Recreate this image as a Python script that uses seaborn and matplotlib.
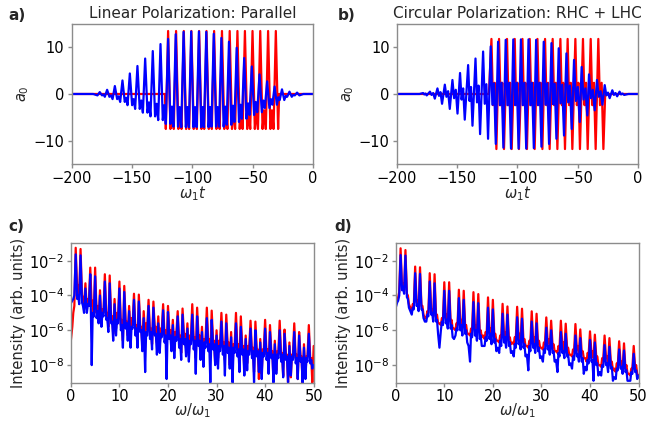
import numpy as np
import matplotlib
matplotlib.use("Agg")
import matplotlib.pyplot as plt
import seaborn as sns
import pandas as pd

# ---------------- time-domain data (panel a: linear, parallel) ----------------
# each cycle: narrow peak, trough on each side of it, small bump between cycles
red_a_peak_t = [-120.0, -113.4, -107.0, -100.7, -94.3, -88.2, -81.9, -75.4, -69.0, -62.6,
                -56.4, -50.1, -43.7, -37.2, -30.8]
red_a_peak_v = [13.5, 13.5, 13.5, 13.5, 13.5, 13.5, 13.5, 13.5, 13.5, 13.5, 13.5, 13.5, 13.5, 13.5, 13.5]
red_a_trough_v = [-7.5, -7.5, -7.5, -7.5, -7.5, -7.5, -7.5, -7.5, -7.5, -7.5, -7.5, -7.5, -7.5, -7.5, -7.5]
red_a_bump_v = [-3.5, -3.5, -3.5, -3.5, -3.5, -3.5, -3.5, -3.5, -3.5, -3.5, -3.5, -3.5, -3.5, -3.5]

blue_a_peak_t = [-176.6, -170.5, -164.1, -157.8, -151.7, -145.4, -139.0, -132.7, -126.3, -120.0,
                 -113.7, -107.2, -100.9, -94.5, -88.4, -82.2, -75.9, -69.6, -63.2, -57.0,
                 -50.7, -44.3, -38.0, -31.8, -25.7, -19.5, -13.2]
blue_a_peak_v = [0.4, 0.9, 1.7, 2.9, 4.4, 6.0, 7.6, 9.2, 10.7, 11.8,
                 12.8, 13.3, 13.4, 13.4, 13.3, 12.9, 12.0, 11.2, 9.9, 7.7,
                 5.9, 4.2, 2.7, 1.6, 1.0, 0.5, 0.3]
blue_a_trough_v = [-0.3, -0.6, -1.1, -1.7, -2.4, -3.2, -4.0, -4.8, -5.6, -6.4,
                   -7.0, -7.1, -7.1, -7.1, -7.1, -7.0, -7.0, -6.6, -6.0, -5.3,
                   -4.5, -3.9, -3.0, -2.3, -1.3, -0.6, -0.3]
blue_a_bump_v = [-0.1, -0.3, -0.5, -0.8, -1.1, -1.4, -1.8, -2.1, -2.4, -2.7, -2.8, -2.8, -2.8,
                 -2.8, -2.8, -2.8, -2.7, -2.5, -2.3, -2.0, -1.7, -1.4, -1.1, -0.7, -0.4, -0.2]

# ---------------- time-domain data (panel b: circular, RHC + LHC) ----------------
red_b_peak_t = [-121.4, -115.1, -108.5, -102.1, -95.7, -89.7, -83.3, -77.0, -70.7, -64.3,
                -58.3, -51.9, -45.6, -39.2, -32.9]
red_b_peak_v = [11.8, 11.8, 11.8, 11.8, 11.8, 11.8, 11.8, 11.8, 11.8, 11.8, 11.8, 11.8, 11.8, 11.8, 11.8]
red_b_trough_t = [-117.3, -111.0, -104.6, -98.6, -92.0, -85.6, -79.2, -73.2, -66.8, -60.5,
                  -54.4, -48.1, -41.7, -35.1, -28.7]
red_b_trough_v = [-11.8, -11.8, -11.8, -11.8, -11.8, -11.8, -11.8, -11.8, -11.8, -11.8,
                  -11.8, -11.8, -11.8, -11.8, -11.8]
red_b_wig_lo = [-2.4, -2.4, -2.4, -2.4, -2.4, -2.4, -2.4, -2.4, -2.4, -2.4, -2.4, -2.4, -2.4, -2.4, -2.4]
red_b_wig_hi = [2.4, 2.4, 2.4, 2.4, 2.4, 2.4, 2.4, 2.4, 2.4, 2.4, 2.4, 2.4, 2.4, 2.4, 2.4]

blue_b_peak_t = [-178.0, -172.3, -166.1, -160.0, -153.7, -147.4, -140.7, -134.6, -128.3, -122.0,
                 -115.9, -109.6, -103.3, -97.0, -90.7, -84.4, -78.1, -71.7, -65.7, -59.3,
                 -53.0, -46.7, -40.6, -34.0, -27.6, -21.3, -15.3]
blue_b_peak_v = [0.2, 0.5, 1.2, 2.0, 3.0, 4.5, 6.2, 7.6, 9.1, 10.2,
                 11.2, 11.6, 11.7, 11.7, 11.7, 11.6, 11.2, 10.9, 9.8, 8.7,
                 7.3, 5.8, 4.2, 3.0, 1.9, 0.8, 0.5]
blue_b_trough_t = [-175.0, -168.3, -162.3, -155.9, -149.5, -143.5, -137.1, -130.8, -124.2, -117.8,
                   -111.5, -105.2, -98.9, -92.6, -86.3, -80.0, -73.7, -67.6, -61.3, -54.9,
                   -48.3, -42.0, -35.9, -29.5, -23.5, -17.3, -11.5]
blue_b_trough_v = [-0.3, -1.0, -2.1, -3.2, -4.2, -5.5, -6.8, -8.6, -9.6, -10.7,
                   -11.5, -11.7, -11.7, -11.7, -11.6, -11.3, -10.7, -9.6, -8.9, -7.5,
                   -6.0, -4.6, -3.5, -2.3, -0.9, -0.5, -0.2]
blue_b_wig_lo = [-0.1, -0.2, -0.4, -0.6, -0.9, -1.2, -1.5, -1.8, -2.1, -2.3, -2.4, -2.4, -2.4, -2.4,
                 -2.4, -2.4, -2.3, -2.2, -2.0, -1.8, -1.5, -1.2, -0.9, -0.6, -0.3, -0.2, -0.1]
blue_b_wig_hi = [0.1, 0.2, 0.4, 0.6, 0.9, 1.2, 1.5, 1.8, 2.1, 2.3, 2.4, 2.4, 2.4, 2.4,
                 2.4, 2.4, 2.3, 2.2, 2.0, 1.8, 1.5, 1.2, 0.9, 0.6, 0.3, 0.2, 0.1]

# ---------------- spectra (log10 intensity), n = 0..50 ----------------
# pk: value at harmonic order n; lo1, mid, lo2: background between n and n+1
red_c_pk = [-6.6, -1.26, -1.33, -3.3, -2.4, -2.4, -3.7, -2.78, -2.85, -4.2, -3.2, -3.45, -4.6, -3.9, -3.95,
            -4.9, -4.25, -4.35, -5.2, -4.5, -4.6, -5.4, -4.9, -4.75, -5.6, -4.5, -4.7, -5.8, -4.7, -4.87,
            -6.0, -5.0, -5.1, -6.1, -5.0, -5.2, -6.3, -5.45, -5.5, -6.5, -5.4, -5.7, -6.6, -5.45, -5.96,
            -6.7, -5.6, -6.1, -6.8, -5.7, -6.9]
red_c_lo1 = [-5.8, -3.6, -4.0, -4.8, -4.6, -5.0, -5.6, -5.1, -5.3, -5.9, -5.7, -5.6, -6.2, -6.0, -5.8,
             -6.4, -6.2, -6.0, -6.9, -6.3, -6.1, -7.2, -6.6, -6.3, -7.4, -6.6, -6.4, -7.8, -6.8, -6.7,
             -7.6, -7.0, -6.9, -8.2, -7.1, -7.0, -7.9, -7.3, -7.2, -8.5, -7.4, -7.3, -8.3, -7.5, -7.4,
             -8.7, -7.6, -7.5, -8.6, -7.7]
red_c_mid = [-5.0, -3.4, -4.1, -4.2, -4.3, -4.6, -4.8, -5.0, -5.2, -5.0, -5.4, -5.5, -5.3, -5.7, -5.8,
             -5.6, -5.9, -5.8, -5.9, -6.0, -6.0, -6.1, -6.3, -6.2, -6.3, -6.4, -6.3, -6.5, -6.5, -6.6,
             -6.6, -6.7, -6.7, -6.8, -6.8, -6.9, -6.9, -7.0, -7.1, -7.1, -7.1, -7.2, -7.2, -7.3, -7.4,
             -7.4, -7.4, -7.5, -7.5, -7.6]
red_c_lo2 = [-4.6, -3.9, -4.6, -4.3, -5.2, -5.4, -5.0, -5.8, -6.2, -5.3, -6.6, -6.3, -5.6, -6.6, -6.9,
             -5.9, -6.8, -6.7, -6.0, -7.0, -6.8, -6.2, -7.3, -7.0, -6.4, -7.6, -7.2, -6.6, -7.5, -7.9,
             -6.8, -7.7, -8.0, -6.9, -7.8, -8.3, -7.0, -8.4, -8.8, -7.2, -8.2, -8.9, -7.3, -8.6, -9.0,
             -7.4, -8.8, -9.1, -7.5, -9.0]

blue_c_pk = [-4.45, -1.64, -1.7, -3.6, -2.78, -2.9, -4.0, -3.2, -3.3, -4.5, -3.6, -3.8, -4.9, -4.25, -4.35,
             -5.3, -4.6, -4.7, -5.6, -4.85, -4.95, -5.7, -5.2, -5.1, -5.9, -5.1, -5.2, -6.1, -5.3, -5.4,
             -6.3, -5.5, -5.6, -6.4, -5.6, -5.8, -6.5, -5.9, -6.0, -6.7, -5.9, -6.1, -6.8, -6.0, -6.2,
             -6.9, -6.1, -6.3, -7.0, -6.2, -8.0]
blue_c_lo1 = [-4.3, -4.2, -4.4, -5.0, -8.0, -5.3, -5.8, -5.4, -5.6, -6.3, -6.0, -5.9, -7.0, -6.3, -6.1,
              -8.4, -6.5, -6.3, -7.3, -6.7, -6.5, -7.6, -7.0, -6.8, -7.8, -7.1, -6.9, -8.1, -7.2, -7.1,
              -8.2, -7.4, -7.3, -9.0, -7.5, -7.4, -8.3, -7.6, -7.5, -8.8, -7.7, -7.6, -8.5, -7.8, -7.7,
              -8.6, -7.9, -7.8, -8.8, -7.9]
blue_c_mid = [-4.2, -4.0, -4.6, -4.5, -5.0, -4.9, -5.0, -5.3, -5.5, -5.4, -5.7, -5.6, -5.8, -5.9, -6.0,
              -6.1, -6.1, -6.2, -6.2, -6.3, -6.3, -6.4, -6.5, -6.5, -6.6, -6.6, -6.6, -6.7, -6.8, -6.8,
              -6.9, -6.9, -7.0, -7.0, -7.1, -7.1, -7.2, -7.2, -7.2, -7.3, -7.3, -7.4, -7.4, -7.4, -7.5,
              -7.5, -7.6, -7.6, -7.6, -7.7]
blue_c_lo2 = [-4.0, -4.5, -5.0, -4.6, -5.2, -5.6, -5.2, -6.1, -6.6, -5.6, -7.0, -6.6, -5.9, -7.0, -7.2,
              -6.3, -7.1, -7.4, -6.4, -8.8, -7.2, -6.6, -7.7, -7.5, -6.8, -8.5, -7.7, -7.0, -9.0, -8.0,
              -7.2, -8.6, -8.2, -7.3, -8.4, -8.6, -7.4, -9.0, -8.4, -7.5, -8.5, -9.0, -7.6, -8.7, -9.0,
              -7.7, -8.8, -9.0, -7.8, -8.2]

red_d_pk = [-4.5, -1.29, -1.39, -4.7, -2.34, -2.38, -5.3, -2.72, -2.78, -5.6, -3.24, -3.24, -5.9, -3.67, -3.73,
            -6.2, -3.81, -3.92, -6.3, -4.11, -4.25, -6.6, -4.48, -4.63, -6.7, -4.65, -4.76, -6.9, -4.91, -5.05,
            -7.0, -5.26, -5.45, -7.2, -5.45, -5.62, -7.4, -5.64, -5.95, -7.6, -6.06, -6.25, -8.0, -6.3, -6.45,
            -8.2, -6.63, -6.75, -8.5, -6.9, -8.6]
red_d_lo1 = [-4.2, -3.5, -3.9, -4.9, -4.4, -4.6, -5.3, -4.9, -5.2, -5.7, -5.3, -5.5, -6.0, -5.6, -5.8,
             -6.3, -5.9, -6.1, -6.5, -6.1, -6.3, -6.7, -6.3, -6.5, -6.8, -6.4, -6.6, -7.0, -6.6, -6.8,
             -7.1, -6.7, -6.9, -7.3, -6.9, -7.1, -7.5, -7.1, -7.3, -7.8, -7.3, -7.6, -8.1, -7.6, -7.9,
             -8.4, -7.9, -8.2, -8.6, -8.2]
red_d_mid = [-4.1, -3.3, -4.0, -4.5, -4.3, -4.6, -4.9, -4.8, -5.1, -5.3, -5.1, -5.4, -5.6, -5.4, -5.7,
             -5.9, -5.7, -6.0, -6.1, -5.9, -6.2, -6.3, -6.1, -6.4, -6.4, -6.2, -6.5, -6.6, -6.4, -6.6,
             -6.7, -6.5, -6.8, -6.9, -6.7, -7.0, -7.1, -6.9, -7.2, -7.3, -7.2, -7.5, -7.6, -7.5, -7.8,
             -7.9, -7.8, -8.0, -8.2, -8.0]
red_d_lo2 = [-3.8, -3.7, -4.5, -4.6, -4.7, -5.1, -5.0, -5.2, -5.6, -5.4, -5.5, -5.9, -5.7, -5.8, -6.2,
             -6.0, -6.1, -6.4, -6.2, -6.3, -6.6, -6.4, -6.5, -6.8, -6.5, -6.6, -6.9, -6.7, -6.8, -7.0,
             -6.8, -6.9, -7.2, -7.0, -7.1, -7.4, -7.2, -7.3, -7.6, -7.4, -7.6, -8.0, -7.7, -7.9, -8.3,
             -8.0, -8.2, -8.5, -8.2, -8.5]

blue_d_pk = [-4.7, -1.68, -1.71, -4.9, -2.72, -2.76, -5.5, -3.2, -3.3, -7.0, -3.73, -3.73, -6.5, -4.15, -4.25,
             -6.9, -4.38, -4.44, -6.9, -4.7, -4.8, -7.0, -5.05, -5.1, -7.2, -5.25, -5.33, -7.4, -5.5, -5.6,
             -7.5, -5.85, -6.0, -7.7, -6.1, -6.2, -7.9, -6.3, -6.45, -8.1, -6.55, -6.7, -8.4, -6.85, -6.95,
             -8.7, -7.1, -7.16, -8.9, -7.35, -8.6]
blue_d_lo1 = [-4.4, -3.7, -4.1, -5.1, -4.6, -4.8, -5.5, -5.1, -5.5, -6.0, -5.6, -5.9, -6.3, -6.0, -6.2,
              -7.8, -6.3, -6.5, -6.9, -6.5, -6.7, -7.3, -6.7, -6.9, -7.5, -6.8, -7.0, -8.3, -7.0, -7.2,
              -7.8, -7.1, -7.3, -8.4, -7.3, -7.5, -8.2, -7.5, -7.8, -8.3, -7.8, -8.0, -8.6, -8.0, -8.2,
              -8.8, -8.2, -8.4, -8.9, -8.4]
blue_d_mid = [-4.3, -3.5, -4.2, -4.7, -4.5, -4.8, -5.1, -5.0, -5.4, -5.5, -5.4, -5.7, -5.9, -5.7, -6.0,
              -6.2, -6.0, -6.3, -6.4, -6.2, -6.5, -6.6, -6.4, -6.7, -6.8, -6.6, -6.8, -6.9, -6.8, -7.0,
              -7.1, -6.9, -7.2, -7.3, -7.2, -7.4, -7.5, -7.4, -7.6, -7.7, -7.7, -7.9, -8.0, -7.9, -8.1,
              -8.2, -8.1, -8.3, -8.4, -8.3]
blue_d_lo2 = [-4.0, -3.9, -4.7, -4.8, -4.9, -5.3, -5.2, -5.5, -6.2, -5.7, -5.9, -6.4, -6.0, -6.3, -6.7,
              -6.4, -6.6, -6.9, -6.6, -6.8, -7.2, -6.9, -7.0, -7.3, -7.0, -7.1, -7.5, -7.2, -7.3, -7.6,
              -7.3, -7.4, -7.8, -7.5, -7.6, -8.0, -7.7, -7.8, -8.5, -7.9, -8.9, -8.6, -8.1, -8.4, -8.9,
              -8.3, -8.5, -8.9, -8.5, -8.8]

titles = ["Linear Polarization: Parallel", "Circular Polarization: RHC + LHC"]
panel_labels = ["a)", "b)", "c)", "d)"]


def linear_series(pk_t, pk_v, tr_v, bump_v, t_start, t_end, half_width=1.9):
    pts = [(-200.0, 0.0), (t_start, 0.0)]
    for i in range(len(pk_t)):
        pts += [(pk_t[i] - half_width, tr_v[i]), (pk_t[i], pk_v[i]), (pk_t[i] + half_width, tr_v[i])]
        if i < len(bump_v):
            pts.append((0.5 * (pk_t[i] + pk_t[i + 1]), bump_v[i]))
    pts += [(t_end, 0.0), (0.0, 0.0)]
    pts.sort(key=lambda p: p[0])
    return pd.DataFrame(pts, columns=["t", "a0"])


def circular_series(pk_t, pk_v, tr_t, tr_v, t_start, t_end, wig_lo, wig_hi):
    pts = [(-200.0, 0.0), (t_start, 0.0)]
    pts += list(zip(pk_t, pk_v)) + list(zip(tr_t, tr_v))
    for i in range(min(len(pk_t), len(tr_t))):
        gap = tr_t[i] - pk_t[i]
        pts.append((pk_t[i] + 0.33 * gap, wig_lo[i]))
        pts.append((pk_t[i] + 0.66 * gap, wig_hi[i]))
    pts += [(t_end, 0.0), (0.0, 0.0)]
    pts.sort(key=lambda p: p[0])
    return pd.DataFrame(pts, columns=["t", "a0"])


def spectrum(pk, lo1, mid, lo2):
    xs, ys = [], []
    for n in range(len(pk)):
        xs.append(n)
        ys.append(10 ** pk[n])
        if n < len(lo1):
            xs += [n + 0.3, n + 0.5, n + 0.72]
            ys += [10 ** lo1[n], 10 ** mid[n], 10 ** lo2[n]]
    return pd.DataFrame({"w": xs, "I": ys})


sns.set_style("ticks")
plt.rcParams.update({
    "font.family": ["DejaVu Sans"],
    "axes.edgecolor": "#8c8c8c",
    "xtick.color": "#8c8c8c",
    "ytick.color": "#8c8c8c",
    "xtick.labelcolor": "black",
    "ytick.labelcolor": "black",
    "axes.linewidth": 1.0,
    "font.size": 10.5,
})

fig = plt.figure(figsize=(6.59, 4.21), dpi=100)
pos = [[0.1085, 0.6105, 0.3665, 0.3325], [0.6017, 0.6105, 0.3665, 0.3325],
       [0.1075, 0.0914, 0.3685, 0.3325], [0.6005, 0.0914, 0.3685, 0.3325]]
axes = [fig.add_axes(p) for p in pos]

lw = 1.6
ra = linear_series(red_a_peak_t, red_a_peak_v, red_a_trough_v, red_a_bump_v, -122.6, -28.0)
ba = linear_series(blue_a_peak_t, blue_a_peak_v, blue_a_trough_v, blue_a_bump_v, -182.0, -8.0)
rb = circular_series(red_b_peak_t, red_b_peak_v, red_b_trough_t, red_b_trough_v, -123.5, -27.2,
                     red_b_wig_lo, red_b_wig_hi)
bb = circular_series(blue_b_peak_t, blue_b_peak_v, blue_b_trough_t, blue_b_trough_v, -181.0, -8.0,
                     blue_b_wig_lo, blue_b_wig_hi)

for ax, rdf, bdf, title in [(axes[0], ra, ba, titles[0]), (axes[1], rb, bb, titles[1])]:
    sns.lineplot(data=rdf, x="t", y="a0", color="red", lw=lw, estimator=None, sort=False, ax=ax)
    sns.lineplot(data=bdf, x="t", y="a0", color="blue", lw=lw, estimator=None, sort=False, ax=ax)
    ax.set_xlim(-200, 0)
    ax.set_ylim(-15, 15)
    ax.set_xticks([-200, -150, -100, -50, 0])
    ax.set_yticks([-10, 0, 10])
    ax.set_xlabel(r"$\omega_1 t$", labelpad=-1)
    ax.set_ylabel(r"$a_0$", labelpad=2)
    ax.set_title(title, fontsize=11, pad=4)

spec = [(axes[2], spectrum(red_c_pk, red_c_lo1, red_c_mid, red_c_lo2),
         spectrum(blue_c_pk, blue_c_lo1, blue_c_mid, blue_c_lo2)),
        (axes[3], spectrum(red_d_pk, red_d_lo1, red_d_mid, red_d_lo2),
         spectrum(blue_d_pk, blue_d_lo1, blue_d_mid, blue_d_lo2))]
for ax, rdf, bdf in spec:
    sns.lineplot(data=rdf, x="w", y="I", color="red", lw=lw, estimator=None, sort=False, ax=ax)
    sns.lineplot(data=bdf, x="w", y="I", color="blue", lw=lw, estimator=None, sort=False, ax=ax)
    ax.set_yscale("log")
    ax.set_xlim(0, 50)
    ax.set_ylim(1e-9, 1.1e-1)
    ax.set_xticks([0, 10, 20, 30, 40, 50])
    ax.set_yticks([1e-8, 1e-6, 1e-4, 1e-2])
    ax.yaxis.set_minor_locator(matplotlib.ticker.NullLocator())
    ax.set_xlabel(r"$\omega/\omega_1$", labelpad=-2)
    ax.set_ylabel("Intensity (arb. units)", labelpad=2)

for ax in axes:
    ax.tick_params(axis="both", labelsize=10.5, length=3, width=1.0, pad=2)
    for s in ax.spines.values():
        s.set_visible(True)

label_pos = [(0.012, 0.952), (0.512, 0.952), (0.012, 0.452), (0.507, 0.452)]
for (x, y), lab in zip(label_pos, panel_labels):
    fig.text(x, y, lab, fontsize=11, fontweight="bold", ha="left", va="baseline")

fig.savefig("out.png", dpi=100)
